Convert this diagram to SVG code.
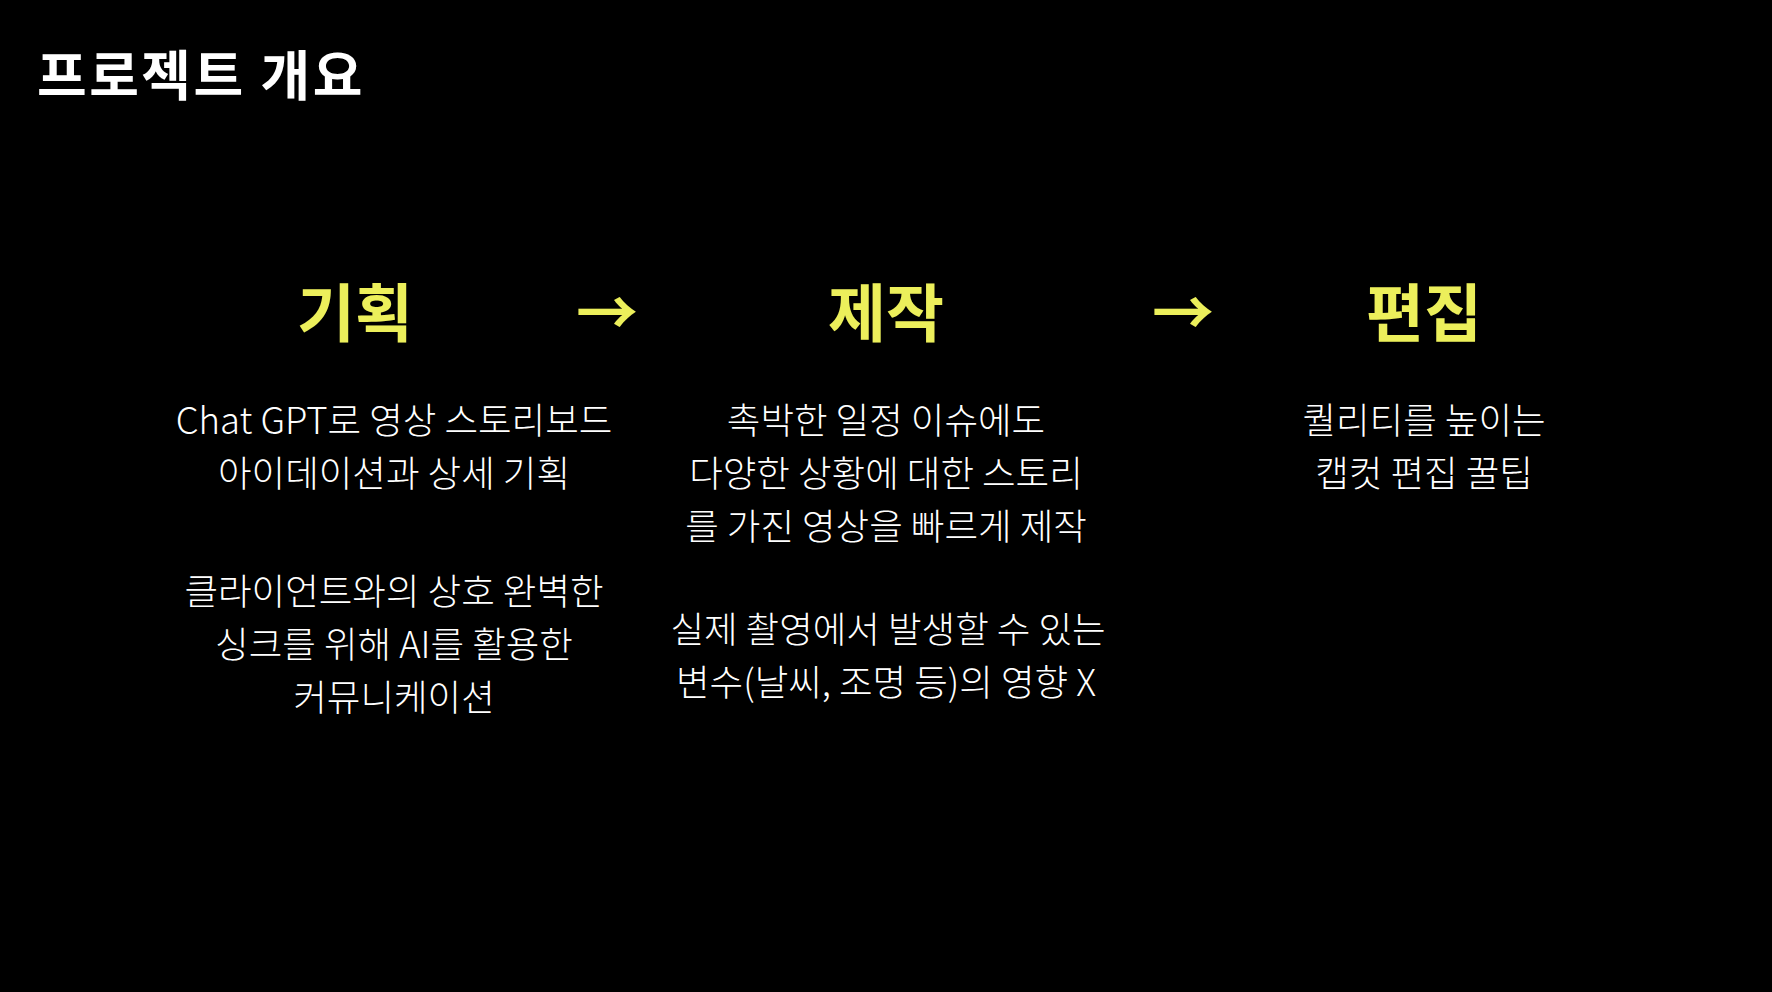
<svg xmlns="http://www.w3.org/2000/svg" width="1772" height="992" viewBox="0 0 1772 992">
<style>
.title{font-family:"Noto Sans CJK KR","Noto Sans",sans-serif;font-weight:700;font-size:54px;letter-spacing:2.5px;fill:#ffffff}
.head{font-family:"Noto Sans CJK KR","Noto Sans",sans-serif;font-weight:700;font-size:63px;fill:#ECEF5B;text-anchor:middle}
.arrow{font-family:"Noto Sans CJK KR","Noto Sans",sans-serif;font-weight:700;font-size:62px;fill:#ECEF5B;text-anchor:middle}
.body{font-family:"Noto Sans CJK KR","Noto Sans",sans-serif;font-weight:300;font-size:36.5px;fill:#ffffff;text-anchor:middle}
</style>
<rect width="1772" height="992" fill="#000000"/>
<g id="title"><text class="title" x="37" y="96">프로젝트 개요</text></g>
<g id="plan">
<text class="head" x="355" y="336">기획</text>
<text class="body" x="394" y="434">Chat GPT로 영상 스토리보드</text>
<text class="body" x="394" y="487">아이데이션과 상세 기획</text>
<text class="body" x="394" y="605">클라이언트와의 상호 완벽한</text>
<text class="body" x="394" y="658">싱크를 위해 AI를 활용한</text>
<text class="body" x="394" y="711">커뮤니케이션</text>
</g>
<g id="production">
<text class="head" x="886" y="336">제작</text>
<text class="body" x="886" y="434">촉박한 일정 이슈에도</text>
<text class="body" x="886" y="487">다양한 상황에 대한 스토리</text>
<text class="body" x="886" y="540">를 가진 영상을 빠르게 제작</text>
<text class="body" x="888" y="643">실제 촬영에서 발생할 수 있는</text>
<text class="body" x="886" y="696">변수(날씨, 조명 등)의 영향 X</text>
</g>
<g id="editing">
<text class="head" x="1424" y="336">편집</text>
<text class="body" x="1424" y="434">퀄리티를 높이는</text>
<text class="body" x="1424" y="487">캡컷 편집 꿀팁</text>
</g>
<g id="connectors">
<text class="arrow" x="607" y="336">→</text>
<text class="arrow" x="1183" y="336">→</text>
</g>
</svg>
